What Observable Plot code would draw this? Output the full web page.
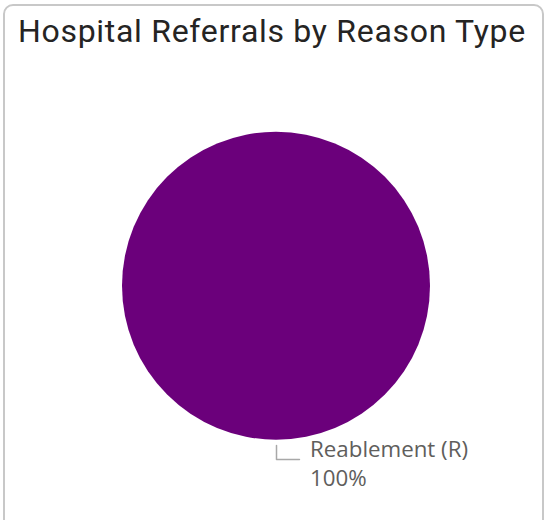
<!DOCTYPE html>
<html>
<head>
<meta charset="utf-8">
<script src="https://cdn.jsdelivr.net/npm/d3@7"></script>
<script src="https://cdn.jsdelivr.net/npm/@observablehq/plot@0.6"></script>
<style>
  html, body { margin: 0; padding: 0; background: #fff; overflow: hidden; }
  #wrap { position: relative; width: 551px; height: 520px; }
  #card { position: absolute; left: 3px; top: 4px; width: 537px; height: 560px;
          border: 2px solid #c8c8c8; border-radius: 10px; box-sizing: content-box; }
  #title { position: absolute; left: 18px; top: 9px; font-family: Roboto, sans-serif;
           font-size: 32px; letter-spacing: 0.7px; color: #252423; white-space: nowrap; line-height: 44px; }
  #chart { position: absolute; left: 0; top: 0; }
</style>
</head>
<body>
<div id="wrap">
  <div id="card"></div>
  <div id="title">Hospital Referrals by Reason Type</div>
  <div id="chart"></div>
</div>
<script>
const categories = ["Reablement (R)"];
const values = [100];
const percentLabels = ["100%"];
const colors = ["#6B007B"];

const pieData = d3.pie().sort(null)(values).map((a, i) => ({
  category: categories[i],
  value: values[i],
  pct: percentLabels[i],
  start: a.startAngle,
  end: a.endAngle,
  mid: (a.startAngle + a.endAngle) / 2
}));

// Leader lines (radial out, then horizontal), in unit-circle coordinates
const leaderPts = [];
pieData.forEach((d, i) => {
  const ux = Math.sin(d.mid), uy = -Math.cos(d.mid);
  const side = ux >= -1e-9 ? 1 : -1;
  leaderPts.push({k: i, x: ux * 1.034, y: uy * 1.034});
  leaderPts.push({k: i, x: ux * 1.125, y: uy * 1.125});
  leaderPts.push({k: i, x: ux * 1.125 + side * 0.149, y: uy * 1.125});
});
const labelRows = pieData.map((d) => {
  const ux = Math.sin(d.mid), uy = -Math.cos(d.mid);
  const side = ux >= -1e-9 ? 1 : -1;
  return {x: ux * 1.125 + side * 0.218, y: uy * 1.125, cat: d.category, pct: d.pct, side};
});

const pieMark = (index, scales) => {
  const cx = scales.x(0), cy = scales.y(0);
  const r = scales.x(1) - scales.x(0);
  const arc = d3.arc().innerRadius(0).outerRadius(r);
  const g = d3.create("svg:g").attr("transform", `translate(${cx},${cy})`);
  g.selectAll("path").data(pieData).join("path")
    .attr("d", d => arc({startAngle: d.start, endAngle: d.end}))
    .attr("fill", (d, i) => scales.color ? scales.color(d.category) : colors[i]);
  return g.node();
};

const chart = Plot.plot({
  width: 551,
  height: 520,
  margin: 0,
  style: {fontFamily: "'Open Sans', sans-serif", background: "transparent"},
  x: {domain: [-1, 1], range: [122, 430], axis: null},
  y: {domain: [-1, 1], range: [131.7, 439.7], axis: null},
  color: {domain: categories, range: colors},
  marks: [
    pieMark,
    Plot.line(leaderPts, {x: "x", y: "y", z: "k", stroke: "#a8a8a8", strokeWidth: 1.5, curve: "linear"}),
    Plot.text(labelRows, {x: "x", y: "y", text: "cat", dy: -10, textAnchor: "start",
      lineAnchor: "middle", fontSize: 22.3, fill: "#605e5c"}),
    Plot.text(labelRows, {x: "x", y: "y", text: "pct", dy: 19, textAnchor: "start",
      lineAnchor: "middle", fontSize: 22.3, fill: "#605e5c"})
  ]
});
document.getElementById("chart").appendChild(chart);
</script>
</body>
</html>
